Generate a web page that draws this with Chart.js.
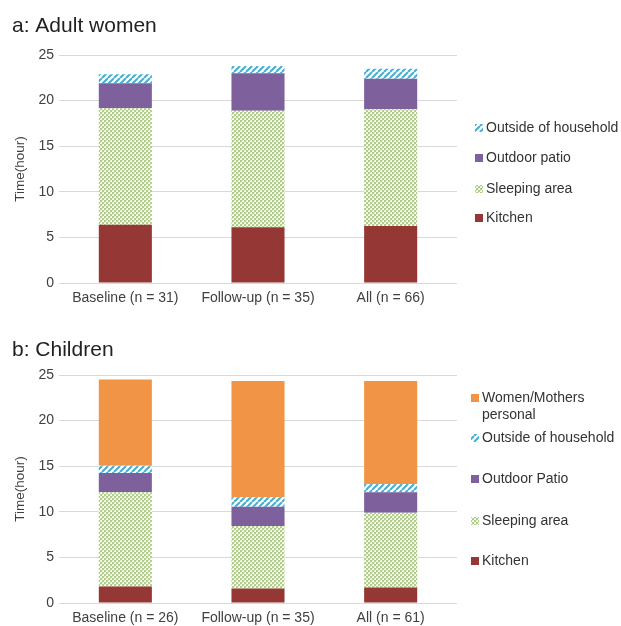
<!DOCTYPE html>
<html>
<head>
<meta charset="utf-8">
<script src="https://cdn.jsdelivr.net/npm/chart.js@4.4.0/dist/chart.umd.min.js"></script>
<style>
    body { margin: 0; background: #fff; }
    .panel { position: absolute; left: 0; }
    #chartA { top: 0; }
    #chartB { top: 310px; }
</style>
</head>
<body>
<canvas id="chartA" class="panel" width="621" height="310"></canvas>
<canvas id="chartB" class="panel" width="621" height="316"></canvas>
<script>
// ── Data: a — Adult women ────────────────────────────────────────────────────
const categoriesA = ['Baseline (n = 31)', 'Follow-up (n = 35)', 'All (n = 66)'];
const kitchenA = [6.4, 6.1, 6.25];
const sleepingA = [12.75, 12.8, 12.8];
const patioA = [2.75, 4.1, 3.35];
const outsideA = [1.0, 0.8, 1.1];

// ── Data: b — Children ───────────────────────────────────────────────────────
const categoriesB = ['Baseline (n = 26)', 'Follow-up (n = 35)', 'All (n = 61)'];
const kitchenB = [1.8, 1.6, 1.7];
const sleepingB = [10.35, 6.85, 8.2];
const patioB = [2.1, 2.1, 2.25];
const outsideB = [0.8, 1.05, 0.9];
const womenB = [9.45, 12.75, 11.3];

const yTicks = [0, 5, 10, 15, 20, 25];

// ── Look ─────────────────────────────────────────────────────────────────────
const FONT = '"Liberation Sans", Arial, sans-serif';
const TEXT = '#404040';
const GRID = '#d9d9d9';
const KITCHEN = '#953735';
const PATIO = '#7d609c';
const ORANGE = '#f29446';

function stripePattern(color) {
    const c = document.createElement('canvas');
    c.width = c.height = 6;
    const g = c.getContext('2d');
    g.fillStyle = '#fff';
    g.fillRect(0, 0, 6, 6);
    g.strokeStyle = color;
    g.lineWidth = 2;
    g.beginPath();
    for (let k = -6; k <= 12; k += 6) { g.moveTo(k, 6); g.lineTo(k + 6, 0); }
    g.stroke();
    return g.createPattern(c, 'repeat');
}

function latticePattern(color) {
    const c = document.createElement('canvas');
    c.width = c.height = 4;
    const g = c.getContext('2d');
    g.fillStyle = '#fff';
    g.fillRect(0, 0, 4, 4);
    g.fillStyle = color;
    g.fillRect(0, 0, 2, 2);
    g.fillRect(2, 2, 2, 2);
    g.fillStyle = '#dbe9c9';
    g.fillRect(2, 0, 1, 1);
    g.fillRect(0, 2, 1, 1);
    return g.createPattern(c, 'repeat');
}

const STRIPES = stripePattern('#45aed2');
const LATTICE = latticePattern('#afcd8b');

// Title + legend drawn by hand so they sit where the reference puts them
const panelDecor = {
    id: 'panelDecor',
    afterDraw(chart, args, opts) {
        const ctx = chart.ctx;
        ctx.save();
        ctx.fillStyle = '#222';
        ctx.font = `21px ${FONT}`;
        ctx.textBaseline = 'alphabetic';
        ctx.fillText(opts.title, 12, opts.titleY);

        ctx.font = `14px ${FONT}`;
        ctx.textBaseline = 'middle';
        const sets = chart.data.datasets.slice().reverse();
        sets.forEach((ds, i) => {
            const y = opts.itemY[i];
            ctx.fillStyle = ds.backgroundColor;
            ctx.fillRect(opts.boxX, y - 4, 8, 8);
            ctx.fillStyle = '#333';
            const lines = Array.isArray(ds.label) ? ds.label : [ds.label];
            lines.forEach((t, j) => ctx.fillText(t, opts.textX, y + j * 17));
        });
        ctx.restore();
    },
};

function makeChart(id, labels, datasets, decor, pad) {
    return new Chart(document.getElementById(id), {
        type: 'bar',
        data: { labels, datasets },
        plugins: [panelDecor],
        options: {
            responsive: false,
            animation: false,
            layout: { padding: pad },
            datasets: { bar: { categoryPercentage: 0.4, barPercentage: 1, borderWidth: 0 } },
            plugins: {
                legend: { display: false },
                tooltip: { enabled: false },
                panelDecor: decor,
            },
            scales: {
                x: {
                    stacked: true,
                    grid: { display: false, drawTicks: false },
                    border: { display: false },
                    ticks: { color: TEXT, font: { family: FONT, size: 14 }, padding: 7 },
                    afterFit: (s) => { s.height = 22; },
                },
                y: {
                    stacked: true,
                    min: 0,
                    max: 25,
                    afterBuildTicks: (s) => { s.ticks = yTicks.map((v) => ({ value: v })); },
                    grid: { color: GRID, drawTicks: false },
                    border: { display: false },
                    ticks: { color: TEXT, font: { family: FONT, size: 14 }, padding: 5 },
                    title: {
                        display: true,
                        text: 'Time(hour)',
                        color: TEXT,
                        font: { family: FONT, size: 13.5 },
                        padding: { top: 12, bottom: 0 },
                    },
                    afterFit: (s) => { s.width = 59; },
                },
            },
        },
    });
}

makeChart('chartA', categoriesA, [
    { label: 'Kitchen', data: kitchenA, backgroundColor: KITCHEN },
    { label: 'Sleeping area', data: sleepingA, backgroundColor: LATTICE },
    { label: 'Outdoor patio', data: patioA, backgroundColor: PATIO },
    { label: 'Outside of household', data: outsideA, backgroundColor: STRIPES },
], {
    title: 'a: Adult women', titleY: 32,
    boxX: 475, textX: 486, itemY: [128, 158, 189, 218],
}, { left: 0, right: 164, top: 55, bottom: 5 });

makeChart('chartB', categoriesB, [
    { label: 'Kitchen', data: kitchenB, backgroundColor: KITCHEN },
    { label: 'Sleeping area', data: sleepingB, backgroundColor: LATTICE },
    { label: 'Outdoor Patio', data: patioB, backgroundColor: PATIO },
    { label: 'Outside of household', data: outsideB, backgroundColor: STRIPES },
    { label: ['Women/Mothers', 'personal'], data: womenB, backgroundColor: ORANGE },
], {
    title: 'b: Children', titleY: 46,
    boxX: 471, textX: 482, itemY: [88, 128, 169, 211, 251],
}, { left: 0, right: 164, top: 65, bottom: 1 });
</script>
</body>
</html>
